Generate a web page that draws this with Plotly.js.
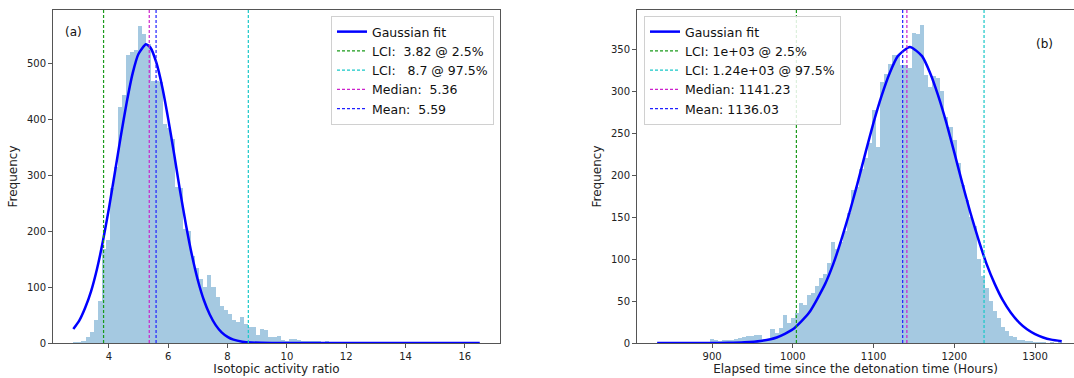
<!DOCTYPE html>
<html><head><meta charset="utf-8">
<script src="https://cdn.plot.ly/plotly-3.0.1.min.js"></script>
<style>html,body{margin:0;padding:0;background:#fff}#chart{width:1074px;height:378px}</style>
</head><body><div id="chart"></div>
<script>
// ---------- Panel (a): isotopic activity ratio ----------
const ratioBinStart = 2.8;
const ratioBinWidth = 0.137;
const ratioCounts = [
  1,2,4,10,20,41,75,168,185,278,
  315,423,444,516,521,524,568,553,536,470,
  470,468,392,385,365,280,278,205,200,155,
  135,115,100,122,100,82,66,60,52,42,
  38,46,34,28,29,14,25,24,10,11,
  12,5,4,7,7,5,4,3,4,3,
  3,2,3,2,1,2,1,2,1,1,
  2,1,0,1,1,0,0,1,0,1,
  0,0,1,0,0,0,1,0,0,0,
  0,0,0,0,1,0,0,0,0,1
];
const ratioFitX = [2.8,3.0,3.2,3.4,3.6,3.8,4.0,4.2,4.4,4.6,4.8,5.0,5.25,5.4,5.6,5.8,6.0,6.2,6.4,6.6,6.8,7.0,7.2,7.4,7.6,7.8,8.0,8.2,8.5,8.8,9.5,11,13,16.5];
const ratioFitY = [25,40,63,93,133,183,241,305,370,431,483,518,535,529,502,458,401,338,272,211,157,112,77,51,32,19,11,6,2.4,0.9,0.1,0,0,0];
const ratioLines = [3.82, 8.70, 5.36, 5.59];
const ratioLineNames = ['LCI:\u00a0\u00a03.82 @ 2.5%', 'LCI:\u00a0\u00a0\u00a08.7 @ 97.5%', 'Median:\u00a0\u00a05.36', 'Mean:\u00a0\u00a05.59'];
const ratioXRange = [2.115, 17.185];
const ratioYRange = [0, 596.4];

// ---------- Panel (b): elapsed time ----------
const timeBinStart = 832;
const timeBinWidth = 5.01;
const timeCounts = [
  1,0,0,0,0,1,0,0,0,1,
  0,1,1,5,4,2,3,4,4,5,
  6,7,8,8,9,10,5,5,17,12,
  18,33,24,30,36,48,45,57,60,68,
  78,82,95,120,112,121,133,155,182,186,
  207,220,238,278,234,311,321,333,343,343,
  331,331,328,369,368,379,320,305,318,316,
  300,270,258,242,215,188,170,150,140,100,
  80,66,50,38,30,19,14,8,7,4,
  3,2,2,1,1,1,0,1,0,1
];
const timeFitX = [832,880,900,920,940,960,980,1000,1020,1040,1050,1060,1070,1080,1090,1100,1110,1120,1130,1145,1160,1170,1180,1190,1200,1210,1220,1230,1240,1250,1260,1270,1280,1290,1300,1310,1320,1333];
const timeFitY = [0,0.01,0.05,0.2,0.8,2.4,6.6,16.3,36,70.5,94,123,155,190,227,263,295,322,342,353,342,322,295,263,227,190,155,123,94,70.5,51,36,24.6,16.3,10.6,6.6,4.0,2.0];
const timeLines = [1004.4, 1236.8, 1141.23, 1136.03];
const timeLineNames = ['LCI: 1e+03 @ 2.5%', 'LCI: 1.24e+03 @ 97.5%', 'Median: 1141.23', 'Mean: 1136.03'];
const timeXRange = [807, 1348.2];
const timeYRange = [0, 397];

const lineColors = ['#1a9a1a', '#18c8c8', '#cc22cc', '#2020ff'];
const FONT = 'DejaVu Sans, Liberation Sans, sans-serif';
const W = 1074, H = 378;

function centers(start, width, n) {
  const out = [];
  for (let i = 0; i < n; i++) out.push(start + width * (i + 0.5));
  return out;
}

const traces = [];
function addPanel(counts, start, width, fitX, fitY, lines, names, yTop, xa, ya, leg) {
  traces.push({
    type: 'bar', x: centers(start, width, counts.length), y: counts, width: width,
    marker: {color: 'rgba(31,119,180,0.4)', line: {width: 0}},
    xaxis: xa, yaxis: ya, showlegend: false, hoverinfo: 'x+y'
  });
  traces.push({
    type: 'scatter', mode: 'lines', x: fitX, y: fitY, name: 'Gaussian fit',
    line: {color: '#0000ff', width: 2.5, shape: 'spline', smoothing: 0.6},
    xaxis: xa, yaxis: ya, legend: leg
  });
  lines.forEach((v, k) => {
    traces.push({
      type: 'scatter', mode: 'lines', x: [v, v], y: [0, yTop], name: names[k],
      line: {color: lineColors[k], width: 1.2, dash: '3px,2px'},
      xaxis: xa, yaxis: ya, legend: leg
    });
  });
}
addPanel(ratioCounts, ratioBinStart, ratioBinWidth, ratioFitX, ratioFitY, ratioLines, ratioLineNames, ratioYRange[1], 'x', 'y', 'legend');
addPanel(timeCounts, timeBinStart, timeBinWidth, timeFitX, timeFitY, timeLines, timeLineNames, timeYRange[1], 'x2', 'y2', 'legend2');

const yDom = [(H - 343) / H, (H - 10) / H];
const axisCommon = {
  showgrid: false, zeroline: false, showline: true, linecolor: '#555', linewidth: 1,
  ticks: 'outside', ticklen: 4, tickwidth: 1, tickcolor: '#555',
  tickfont: {family: FONT, size: 10, color: '#222'}, automargin: false
};
const legendCommon = {
  bgcolor: 'rgba(255,255,255,0.85)', bordercolor: '#d0d0d0', borderwidth: 1,
  font: {family: FONT, size: 12.5, color: '#111'}, itemwidth: 30, tracegroupgap: 0,
  yanchor: 'top', y: 1 - 16 / H
};

const layout = {
  width: W, height: H, margin: {l: 0, r: 0, t: 0, b: 0},
  paper_bgcolor: '#fff', plot_bgcolor: '#fff', bargap: 0,
  font: {family: FONT},
  xaxis: Object.assign({}, axisCommon, {
    domain: [53 / W, 500 / W], range: ratioXRange, mirror: true, anchor: 'y',
    tickvals: [4, 6, 8, 10, 12, 14, 16],
    title: {text: 'Isotopic activity ratio', font: {family: FONT, size: 12, color: '#222'}, standoff: 3}
  }),
  yaxis: Object.assign({}, axisCommon, {
    domain: yDom, range: ratioYRange, mirror: true, anchor: 'x',
    tickvals: [0, 100, 200, 300, 400, 500],
    title: {text: 'Frequency', font: {family: FONT, size: 12, color: '#222'}, standoff: 6}
  }),
  xaxis2: Object.assign({}, axisCommon, {
    domain: [637 / W, 1], range: timeXRange, mirror: true, anchor: 'y2',
    tickvals: [900, 1000, 1100, 1200, 1300],
    title: {text: '\u00a0\u00a0\u00a0Elapsed time since the detonation time (Hours)', font: {family: FONT, size: 12, color: '#222'}, standoff: 3}
  }),
  yaxis2: Object.assign({}, axisCommon, {
    domain: yDom, range: timeYRange, mirror: false, anchor: 'x2',
    tickvals: [0, 50, 100, 150, 200, 250, 300, 350],
    title: {text: 'Frequency', font: {family: FONT, size: 12, color: '#222'}, standoff: 6}
  }),
  legend: Object.assign({}, legendCommon, {x: 494 / W, xanchor: 'right'}),
  legend2: Object.assign({}, legendCommon, {x: 644 / W, xanchor: 'left'}),
  annotations: [
    {text: '(a)', xref: 'paper', yref: 'paper', x: 73 / W, y: 1 - 32 / H, showarrow: false,
     font: {family: FONT, size: 12, color: '#111'}, xanchor: 'center', yanchor: 'middle'},
    {text: '(b)', xref: 'paper', yref: 'paper', x: 1044 / W, y: 1 - 44 / H, showarrow: false,
     font: {family: FONT, size: 12, color: '#111'}, xanchor: 'center', yanchor: 'middle'}
  ]
};

Plotly.newPlot('chart', traces, layout, {staticPlot: true, displayModeBar: false});
</script>
</body></html>
